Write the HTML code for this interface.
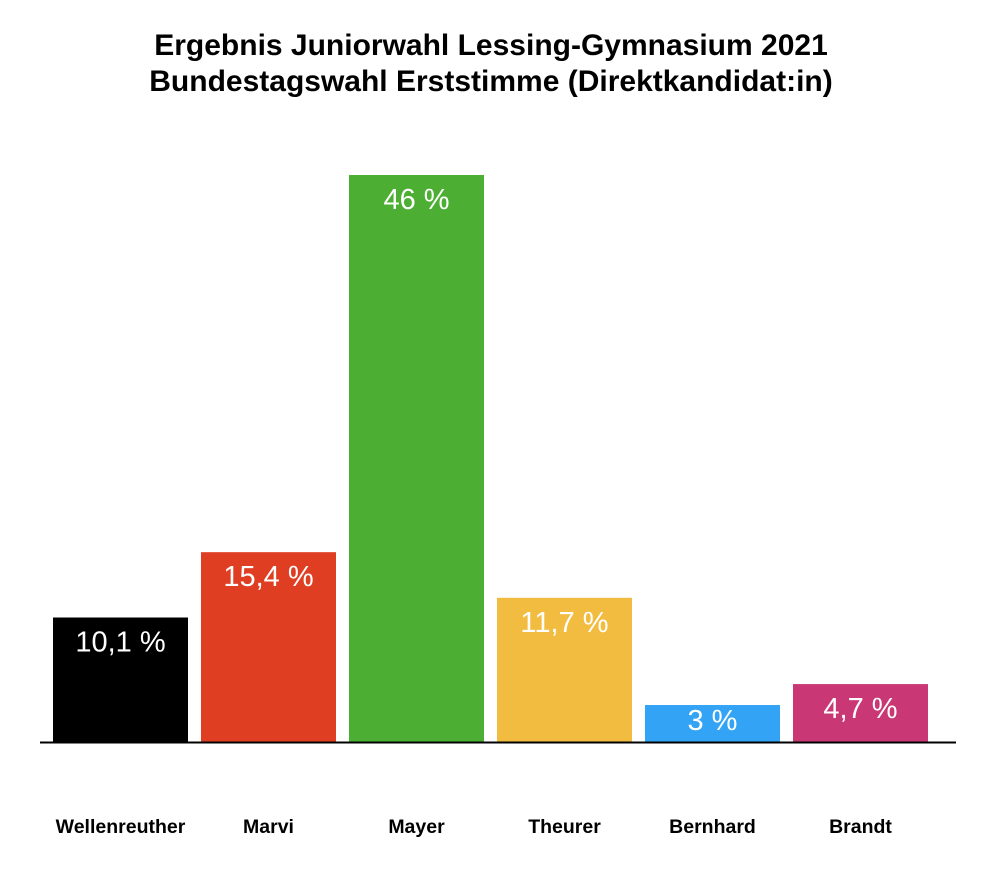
<!DOCTYPE html>
<html><head><meta charset="utf-8">
<style>
html,body{margin:0;padding:0;background:#fff;}
body{width:984px;height:876px;overflow:hidden;font-family:"Liberation Sans",Arial,sans-serif;}
</style></head>
<body>
<svg id="chart" width="984" height="876" xmlns="http://www.w3.org/2000/svg">
  <text x="491" y="55" text-anchor="middle" font-family="Liberation Sans, Arial, sans-serif" font-weight="bold" font-size="30">Ergebnis Juniorwahl Lessing-Gymnasium 2021</text>
  <text x="491" y="91" text-anchor="middle" font-family="Liberation Sans, Arial, sans-serif" font-weight="bold" font-size="30">Bundestagswahl Erststimme (Direktkandidat:in)</text>
  <g id="bars"></g>
  <line x1="40" y1="742.5" x2="956" y2="742.5" stroke="#000" stroke-width="2"/>
</svg>
<script>
const categories = ["Wellenreuther","Marvi","Mayer","Theurer","Bernhard","Brandt"];
const values = [10.1, 15.4, 46, 11.7, 3, 4.7];
const valueLabels = ["10,1 %","15,4 %","46 %","11,7 %","3 %","4,7 %"];
const colors = ["#000000","#e03e22","#4caf33","#f2bc40","#33a3f5","#c93874"];

const baseY = 742, pxPerUnit = 567/46;
const x0 = 53, pitch = 148, barW = 135;
function yScale(v){ return baseY - v*pxPerUnit; }
function xScale(i){ return x0 + i*pitch; }
const NS = "http://www.w3.org/2000/svg";
const g = document.getElementById('bars');
categories.forEach((c,i)=>{
  const top = yScale(values[i]);
  const r = document.createElementNS(NS,'rect');
  r.setAttribute('x', xScale(i));
  r.setAttribute('y', top);
  r.setAttribute('width', barW);
  r.setAttribute('height', baseY - top);
  r.setAttribute('fill', colors[i]);
  
  
  g.appendChild(r);
  const t = document.createElementNS(NS,'text');
  t.setAttribute('x', xScale(i) + barW/2);
  t.setAttribute('y', Math.min(top + 34, baseY - 12));
  t.setAttribute('text-anchor','middle');
  t.setAttribute('fill','#fff');
  t.setAttribute('font-size','29');
  t.setAttribute('font-family','Liberation Sans, Arial, sans-serif');
  t.textContent = valueLabels[i];
  
  
  g.appendChild(t);
  const l = document.createElementNS(NS,'text');
  l.setAttribute('x', xScale(i) + barW/2);
  l.setAttribute('y', 833);
  l.setAttribute('text-anchor','middle');
  l.setAttribute('font-weight','bold');
  l.setAttribute('font-size','19.5');
  l.setAttribute('font-family','Liberation Sans, Arial, sans-serif');
  l.textContent = c;
  
  
  g.appendChild(l);
});
</script>
</body></html>
